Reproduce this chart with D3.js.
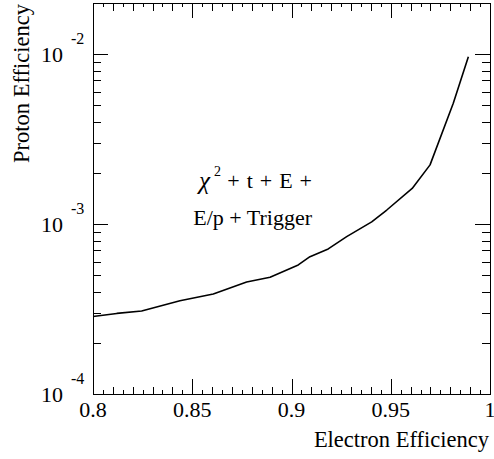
<!DOCTYPE html>
<html>
<head>
<meta charset="utf-8">
<script src="https://cdn.jsdelivr.net/npm/d3@7"></script>
<style>
  html, body { margin: 0; padding: 0; background: #fff; }
  svg { display: block; }
  text { font-family: "Liberation Serif", "Times New Roman", serif; fill: #000; }
</style>
</head>
<body>
<div id="chart"></div>
<script>
// ---- data ----
const electronEff = [0.8, 0.812, 0.8245, 0.8438, 0.8606, 0.8774, 0.8892, 0.9034, 0.9093, 0.9185, 0.9278, 0.9404, 0.948, 0.9608, 0.9698, 0.9815, 0.9891];
const protonEff   = [2.86e-4, 2.98e-4, 3.08e-4, 3.54e-4, 3.88e-4, 4.56e-4, 4.86e-4, 5.75e-4, 6.43e-4, 7.14e-4, 8.43e-4, 1.03e-3, 1.21e-3, 1.62e-3, 2.23e-3, 5.14e-3, 9.67e-3];
const xTicks = [0.8, 0.85, 0.9, 0.95, 1.0];
const xTickLabels = ["0.8", "0.85", "0.9", "0.95", "1"];
const yTicks = [1e-4, 1e-3, 1e-2];
const yTickExponents = ["-4", "-3", "-2"];
const xDomain = [0.8, 1.0];
const yDomain = [1e-4, 2e-2];
const xTitle = "Electron Efficiency";
const yTitle = "Proton Efficiency";
const annotationLine1 = "+ t + E +";
const annotationLine2 = "E/p + Trigger";

// ---- layout ----
const W = 494, H = 459;
const L = 93, R = 490, T = 3, B = 394;

const svg = d3.select("#chart").append("svg").attr("width", W).attr("height", H);

const x = d3.scaleLinear().domain(xDomain).range([L, R]);
const y = d3.scaleLog().domain(yDomain).range([B, T]);

// minor tick values
const xFine = d3.range(0, 41).map(i => +(0.8 + i * 0.005).toFixed(3));
const xMed = xFine.filter((v, i) => i % 2 === 0 && i % 10 !== 0);
const xSmall = xFine.filter((v, i) => i % 2 === 1);
const yMinor = [];
[1e-4, 1e-3, 1e-2].forEach(d => { for (let k = 2; k <= 9; k++) { const v = k * d; if (v <= yDomain[1] * 1.0001) yMinor.push(v); } });

function styleAxis(g) {
  g.select(".domain").remove();
  g.selectAll("line").attr("stroke", "#000").attr("stroke-width", 1).attr("shape-rendering", "crispEdges");
  g.selectAll("text").remove();
}

// bottom/top axes (ticks inward)
[[xTicks, 15], [xMed, 7.5], [xSmall, 4]].forEach(([vals, len]) => {
  svg.append("g").attr("transform", `translate(0,${B})`)
    .call(d3.axisBottom(x).tickValues(vals).tickSize(-len).tickSizeOuter(0).tickFormat(""))
    .call(styleAxis);
  svg.append("g").attr("transform", `translate(0,${T})`)
    .call(d3.axisTop(x).tickValues(vals).tickSize(-len).tickSizeOuter(0).tickFormat(""))
    .call(styleAxis);
});

// left/right axes
[[yTicks, 15], [yMinor, 7.7]].forEach(([vals, len]) => {
  svg.append("g").attr("transform", `translate(${L},0)`)
    .call(d3.axisLeft(y).tickValues(vals).tickSize(-len).tickSizeOuter(0).tickFormat(""))
    .call(styleAxis);
  svg.append("g").attr("transform", `translate(${R},0)`)
    .call(d3.axisRight(y).tickValues(vals).tickSize(-len).tickSizeOuter(0).tickFormat(""))
    .call(styleAxis);
});

// frame
svg.append("rect").attr("x", L).attr("y", T).attr("width", R - L).attr("height", B - T)
  .attr("fill", "none").attr("stroke", "#000").attr("stroke-width", 1).attr("shape-rendering", "crispEdges");

// x tick labels
svg.selectAll("text.xl").data(xTicks).enter().append("text")
  .attr("class", "xl")
  .attr("x", d => x(d)).attr("y", B + 23)
  .attr("text-anchor", "middle").attr("font-size", 22)
  .text((d, i) => xTickLabels[i]);

// y tick labels: 10 with superscript exponent
const yl = svg.selectAll("g.yl").data(yTicks).enter().append("g").attr("class", "yl");
yl.append("text").attr("x", L - 30).attr("y", d => y(d) + 7.5)
  .attr("text-anchor", "end").attr("font-size", 22).text("10");
yl.append("text").attr("x", L - 22).attr("y", d => y(d) - 10.5)
  .attr("text-anchor", "start").attr("font-size", 16).text((d, i) => yTickExponents[i]);

// axis titles
svg.append("text").attr("x", R - 1).attr("y", 447)
  .attr("text-anchor", "end").attr("font-size", 22.5).text(xTitle);
svg.append("text").attr("transform", `translate(28.5,${T + 1}) rotate(-90)`)
  .attr("text-anchor", "end").attr("font-size", 22.5).text(yTitle);

// curve
const line = d3.line().x(d => x(d[0])).y(d => y(d[1]));
svg.append("path").datum(electronEff.map((v, i) => [v, protonEff[i]]))
  .attr("d", line).attr("fill", "none").attr("stroke", "#000").attr("stroke-width", 1.6)
  .attr("stroke-linejoin", "round");

// annotation
svg.append("text").attr("x", 199).attr("y", 189).attr("text-anchor", "start").attr("font-size", 25)
  .attr("font-style", "italic").text("\u03C7");
svg.append("text").attr("x", 214).attr("y", 176).attr("text-anchor", "start").attr("font-size", 14).text("2");
svg.append("text").attr("x", 312).attr("y", 188).attr("text-anchor", "end").attr("font-size", 22)
  .attr("word-spacing", 1.5).text(annotationLine1);
svg.append("text").attr("x", 312).attr("y", 225).attr("text-anchor", "end").attr("font-size", 22).text(annotationLine2);
</script>
</body>
</html>
